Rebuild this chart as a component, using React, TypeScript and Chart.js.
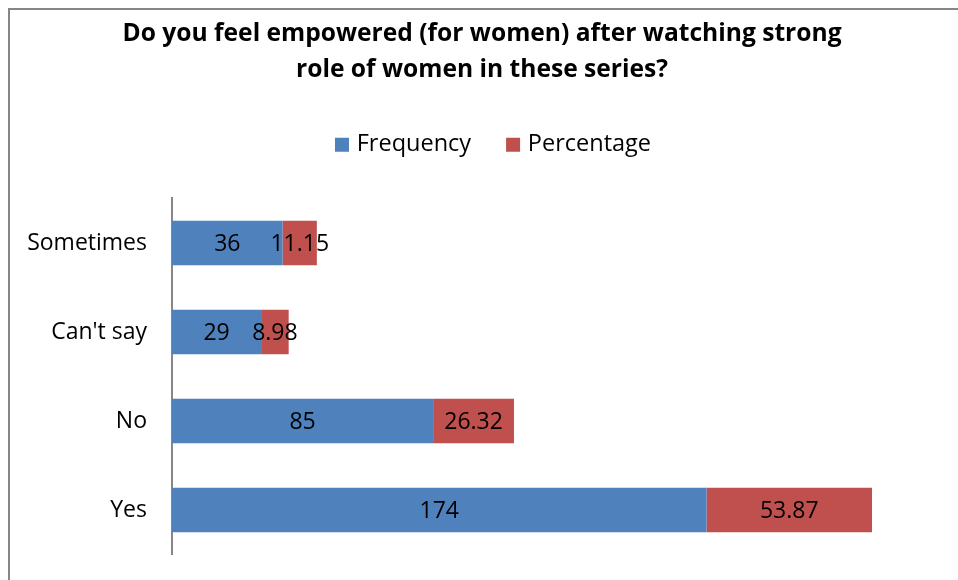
import React, { useEffect, useRef } from "react";
import { Chart, registerables } from "chart.js";

Chart.register(...registerables);

const categories = ["Sometimes", "Can't say", "No", "Yes"];
const frequency = [36, 29, 85, 174];
const percentage = [11.15, 8.98, 26.32, 53.87];
const percentageLabels = ["11.15", "8.98", "26.32", "53.87"];
const titleLines = [
  "Do you feel empowered (for women) after watching strong",
  "role of women in these series?",
];

const FONT = "'Open Sans', 'Noto Sans', sans-serif";
const LEGEND_EXTRA = 32;
const LEGEND_SHIFT_X = 13;

const labelPlugin = {
  id: "segLabels",
  afterDatasetsDraw(chart: any) {
    const ctx = chart.ctx;
    ctx.save();
    ctx.fillStyle = "#000";
    ctx.font = `23px ${FONT}`;
    ctx.textAlign = "center";
    ctx.textBaseline = "middle";
    chart.data.datasets.forEach((ds: any, di: number) => {
      const meta = chart.getDatasetMeta(di);
      meta.data.forEach((el: any, i: number) => {
        const p = el.getCenterPoint();
        const txt = di === 0 ? String(frequency[i]) : percentageLabels[i];
        ctx.fillText(txt, p.x, p.y + 1);
      });
    });
    ctx.restore();
  },
};

const legendTweak = {
  id: "legendTweak",
  afterInit(chart: any) {
    const lg = chart.legend;
    if (!lg || lg.__patched) return;
    lg.__patched = true;
    const origFit = lg.fit;
    lg.fit = function (...args: any[]) {
      origFit.apply(this, args);
      this.height += LEGEND_EXTRA;
    };
    const origDraw = lg.draw;
    lg.draw = function (...args: any[]) {
      this.ctx.save();
      this.ctx.translate(LEGEND_SHIFT_X, 0);
      origDraw.apply(this, args);
      this.ctx.restore();
    };
  },
};

export default function App() {
  const ref = useRef<HTMLCanvasElement>(null);
  useEffect(() => {
    if (!ref.current) return;
    const chart = new Chart(ref.current, {
      type: "bar",
      data: {
        labels: categories,
        datasets: [
          {
            label: "Frequency",
            data: frequency,
            backgroundColor: "#4F81BD",
            barPercentage: 0.5,
            categoryPercentage: 1,
          },
          {
            label: "Percentage",
            data: percentage,
            backgroundColor: "#C0504D",
            barPercentage: 0.5,
            categoryPercentage: 1,
          },
        ],
      },
      options: {
        indexAxis: "y",
        animation: false,
        responsive: false,
        maintainAspectRatio: false,
        layout: { padding: { left: 14, right: 18, top: 0, bottom: 20 } },
        plugins: {
          title: {
            display: true,
            text: titleLines,
            color: "#000",
            font: { family: FONT, size: 24.6, weight: "bold", lineHeight: 1.463 },
            padding: { top: 6, bottom: 6 },
          },
          legend: {
            display: true,
            position: "top",
            labels: {
              color: "#000",
              font: { family: FONT, size: 23.5 },
              usePointStyle: true,
              pointStyle: "rect",
              boxWidth: 6,
              boxHeight: 14,
              padding: 39,
            },
          },
          tooltip: { enabled: false },
        },
        scales: {
          x: {
            stacked: true,
            display: false,
            min: 0,
            max: 250,
          },
          y: {
            stacked: true,
            grid: { display: false, drawTicks: false },
            border: { display: true, color: "#868686", width: 2 },
            ticks: {
              color: "#000",
              font: { family: FONT, size: 23, lineHeight: "1px" },
              padding: 25,
            },
            afterFit: (scale: any) => {
              scale.width = 148;
            },
          },
        },
      },
      plugins: [labelPlugin, legendTweak],
    });
    return () => chart.destroy();
  }, []);
  return (
    <div
      style={{
        position: "fixed",
        left: 8,
        top: 8,
        width: 950,
        height: 572,
        boxSizing: "border-box",
        borderLeft: "2px solid #868686",
        borderTop: "2px solid #868686",
        overflow: "hidden",
      }}
    >
      <canvas ref={ref} width={948} height={570} style={{ display: "block" }} />
    </div>
  );
}
